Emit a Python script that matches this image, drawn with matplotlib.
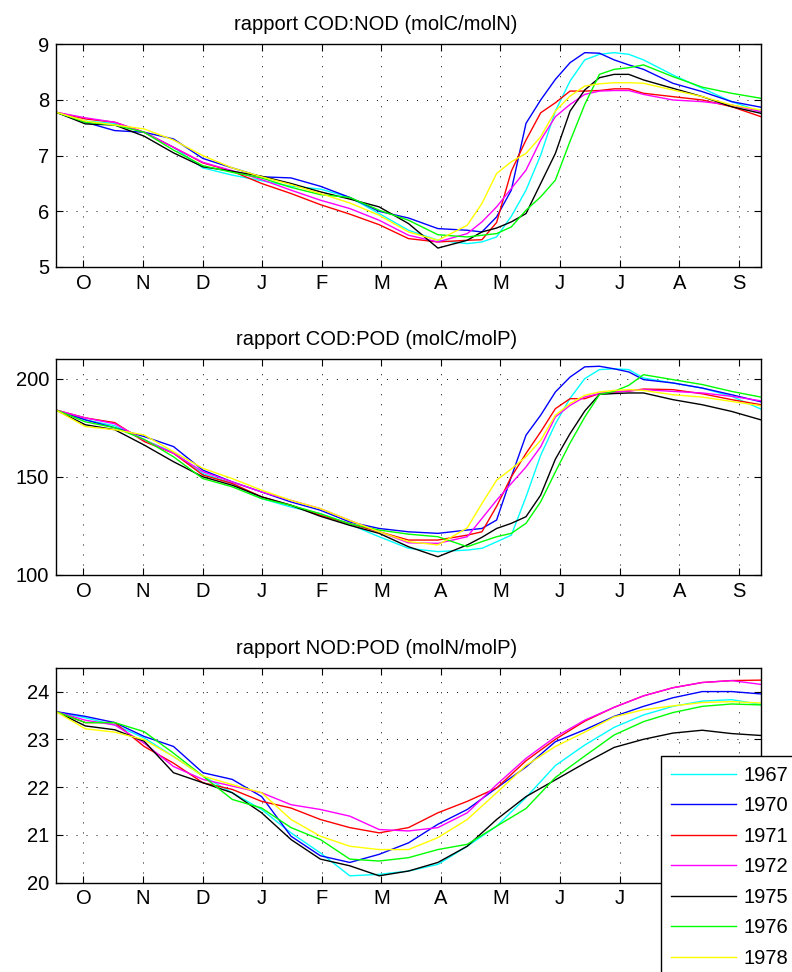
import matplotlib
matplotlib.use("Agg")
import matplotlib.pyplot as plt
from matplotlib.lines import Line2D

plt.rcParams['font.family'] = ['Liberation Sans', 'DejaVu Sans']

# Day index from 1 October (hydrological year)
# carbon ratios: finer sampling through the spring rise
days_c = [0, 15, 30, 45, 60, 75, 90, 105, 120, 135, 150, 165, 180, 195, 210,
          217.5, 225, 232.5, 240, 247.5, 255, 262.5, 270, 277.5, 285, 292.5,
          300, 315, 330, 345, 360]
# N:P ratio: every 15 days
days_n = [0, 15, 30, 45, 60, 75, 90, 105, 120, 135, 150, 165, 180,
          195, 210, 225, 240, 255, 270, 285, 300, 315, 330, 345, 360]

month_labels = ['O', 'N', 'D', 'J', 'F', 'M', 'A', 'M', 'J', 'J', 'A', 'S']
month_ticks = [14 + 30.42 * i for i in range(12)]

years = ['1967', '1970', '1971', '1972', '1975', '1976', '1978']
colors = ['#00ffff', '#0000ff', '#ff0000', '#ff00ff', '#000000', '#00ff00', '#ffff00']

# rapport COD:NOD (molC/molN)
cn_1967 = [7.78, 7.62, 7.58, 7.42, 7.15, 6.78, 6.65, 6.55, 6.45, 6.40, 6.25, 5.96, 5.66, 5.48, 5.42,
           5.45, 5.54, 5.91, 6.38, 7.01, 7.80, 8.34, 8.72, 8.82, 8.85, 8.82,
           8.72, 8.45, 8.21, 7.97, 7.79]
cn_1970 = [7.78, 7.60, 7.45, 7.42, 7.30, 6.95, 6.78, 6.62, 6.60, 6.45, 6.25, 6.00, 5.88, 5.69, 5.66,
           5.63, 5.90, 6.38, 7.58, 8.00, 8.37, 8.67, 8.85, 8.84, 8.72, 8.63,
           8.55, 8.30, 8.15, 7.97, 7.87]
cn_1971 = [7.78, 7.66, 7.60, 7.42, 7.15, 6.87, 6.72, 6.50, 6.32, 6.12, 5.95, 5.76, 5.51, 5.45, 5.48,
           5.49, 5.80, 6.72, 7.28, 7.77, 7.95, 8.16, 8.16, 8.17, 8.20, 8.20,
           8.12, 8.06, 8.00, 7.88, 7.70]
cn_1972 = [7.78, 7.68, 7.60, 7.42, 7.15, 6.88, 6.73, 6.57, 6.38, 6.20, 6.05, 5.84, 5.57, 5.45, 5.60,
           5.81, 6.08, 6.41, 6.74, 7.28, 7.70, 7.92, 8.10, 8.16, 8.17, 8.17,
           8.10, 8.00, 7.97, 7.91, 7.79]
cn_1975 = [7.78, 7.57, 7.55, 7.35, 7.05, 6.80, 6.72, 6.63, 6.50, 6.35, 6.22, 6.08, 5.78, 5.34, 5.48,
           5.63, 5.70, 5.81, 5.96, 6.50, 7.04, 7.80, 8.18, 8.40, 8.46, 8.46,
           8.36, 8.21, 8.06, 7.88, 7.76]
cn_1976 = [7.78, 7.60, 7.55, 7.42, 7.10, 6.82, 6.70, 6.60, 6.43, 6.30, 6.25, 6.02, 5.84, 5.58, 5.54,
           5.57, 5.60, 5.72, 6.02, 6.26, 6.56, 7.26, 7.92, 8.46, 8.55, 8.58,
           8.63, 8.42, 8.23, 8.12, 8.03]
cn_1978 = [7.78, 7.62, 7.55, 7.48, 7.28, 7.00, 6.78, 6.62, 6.48, 6.32, 6.15, 5.93, 5.63, 5.48, 5.75,
           6.14, 6.68, 6.89, 7.04, 7.34, 7.80, 8.07, 8.25, 8.29, 8.31, 8.31,
           8.30, 8.18, 8.06, 7.91, 7.82]

# rapport COD:POD (molC/molP)
cp_1967 = [184, 179, 176, 168.8, 162.5, 151.7, 146.6, 138.9, 134.6, 131.2, 125.8, 119.5, 113.6, 111.9, 112.7,
           113.6, 116.9, 120.3, 139.8, 161, 177, 190, 200, 204.6, 205, 204.6,
           200.3, 197.8, 195.2, 191, 184.5]
cp_1970 = [184, 179, 175, 170.5, 165.4, 153.4, 147.4, 142.3, 137.2, 133, 127, 123.7, 122, 121.2, 122.9,
           123.7, 128, 150, 171.2, 181.4, 193.2, 200.8, 206, 206.3, 205, 203.4,
           199.5, 197.8, 195.2, 191.8, 188.2]
cp_1971 = [184, 180, 177.6, 168, 162, 150.9, 146.6, 139.8, 135.5, 130.4, 126.1, 122, 117.8, 117.8, 120.3,
           122, 135, 150, 161.9, 172.9, 184.7, 189.8, 189.8, 192.4, 193.2, 193.7,
           194.7, 194.4, 192.3, 189.3, 186.7]
cp_1972 = [184, 180, 177, 168.8, 162, 152.6, 147.4, 142.3, 138, 133.8, 127.8, 122, 116.4, 116.1, 119.5,
           128.8, 138.1, 146.6, 155, 165.3, 180.5, 186.4, 190.7, 192.4, 193.2, 193.7,
           194.4, 193.5, 192.7, 191, 188.7]
cp_1975 = [184, 176.5, 174, 166.2, 157.7, 150, 145.7, 139.8, 135.5, 129.9, 125.3, 121.2, 114.4, 109.3, 115.3,
           119.2, 123.7, 126.3, 129.7, 140.7, 159, 172, 183.5, 192, 192.4, 192.7,
           192.7, 189.3, 186.7, 183.3, 179]
cp_1976 = [184, 178, 175, 169.1, 160.2, 149.1, 144.9, 138.9, 135.5, 131.2, 126.1, 122.9, 120.8, 119.5, 114.4,
           117, 119.5, 121.2, 126.3, 137.3, 152.5, 167.2, 180.4, 191.9, 193.5, 196.6,
           202, 199.5, 197, 193.5, 190.6]
cp_1978 = [184, 175.6, 174, 171.3, 162.8, 154.3, 149.1, 143.2, 138, 133.8, 127.8, 122, 117, 115.3, 124,
           136.4, 148.3, 154, 160.2, 168.6, 181.4, 187.3, 191.5, 193.2, 194, 194.4,
           194, 191.8, 190.6, 188.4, 186.2]

# rapport NOD:POD (molN/molP)
np_1967 = [23.58, 23.45, 23.30, 23.03, 22.64, 22.23, 21.88, 21.53, 21.04, 20.62, 20.14, 20.17, 20.24,
           20.38, 20.76, 21.18, 21.78, 22.45, 22.88, 23.25, 23.51, 23.69, 23.80, 23.83, 23.73]
np_1970 = [23.58, 23.48, 23.35, 23.06, 22.85, 22.30, 22.16, 21.80, 20.97, 20.56, 20.42, 20.59, 20.83,
           21.22, 21.53, 21.98, 22.42, 22.95, 23.20, 23.48, 23.69, 23.87, 24.00, 24.00, 23.95]
np_1971 = [23.58, 23.35, 23.35, 22.85, 22.50, 22.09, 21.95, 21.70, 21.56, 21.32, 21.15, 21.04, 21.15,
           21.46, 21.70, 21.98, 22.55, 23.00, 23.38, 23.67, 23.91, 24.08, 24.19, 24.23, 24.24]
np_1972 = [23.58, 23.40, 23.30, 22.92, 22.43, 22.16, 22.02, 21.88, 21.63, 21.53, 21.39, 21.11, 21.08,
           21.15, 21.46, 22.05, 22.60, 23.05, 23.40, 23.67, 23.91, 24.08, 24.19, 24.23, 24.15]
np_1975 = [23.58, 23.28, 23.20, 22.96, 22.30, 22.09, 21.88, 21.46, 20.90, 20.49, 20.35, 20.14, 20.24,
           20.42, 20.76, 21.32, 21.80, 22.15, 22.50, 22.83, 23.00, 23.13, 23.19, 23.12, 23.08]
np_1976 = [23.58, 23.35, 23.35, 23.16, 22.71, 22.23, 21.74, 21.56, 21.15, 20.90, 20.49, 20.45, 20.52,
           20.69, 20.80, 21.18, 21.55, 22.20, 22.65, 23.09, 23.37, 23.56, 23.69, 23.74, 23.72]
np_1978 = [23.58, 23.22, 23.15, 22.99, 22.64, 22.23, 22.05, 21.88, 21.32, 20.97, 20.76, 20.69, 20.69,
           20.94, 21.32, 21.88, 22.45, 22.85, 23.15, 23.47, 23.62, 23.70, 23.77, 23.79, 23.76]

panels = [
    ("rapport COD:NOD (molC/molN)", days_c,
     [cn_1967, cn_1970, cn_1971, cn_1972, cn_1975, cn_1976, cn_1978], (5, 9), [5, 6, 7, 8, 9]),
    ("rapport COD:POD (molC/molP)", days_c,
     [cp_1967, cp_1970, cp_1971, cp_1972, cp_1975, cp_1976, cp_1978], (100, 210), [100, 150, 200]),
    ("rapport NOD:POD (molN/molP)", days_n,
     [np_1967, np_1970, np_1971, np_1972, np_1975, np_1976, np_1978], (20, 24.5), [20, 21, 22, 23, 24]),
]

W, H = 792, 972
fig = plt.figure(figsize=(W / 100, H / 100), dpi=100)

# axes boxes in pixels: (left, top, right, bottom)
boxes = [(56, 44.3, 761, 267), (56, 359, 761, 575), (56, 667.7, 761, 882.5)]

FS = 14.5
axes = []
for (title, xs, series, ylim, yticks), (l, t, r, b) in zip(panels, boxes):
    ax = fig.add_axes([l / W, 1 - b / H, (r - l) / W, (b - t) / H])
    for vals, c, yr in zip(series, colors, years):
        ax.plot(xs, vals, color=c, lw=1.0, label=yr)
    ax.set_xlim(0, 360)
    ax.set_ylim(*ylim)
    ax.set_xticks(month_ticks)
    ax.set_xticklabels(month_labels)
    ax.set_yticks(yticks)
    ax.tick_params(direction='in', length=5, width=0.8, top=True, right=True,
                   labelsize=FS, pad=5)
    ax.grid(True, color='k', linestyle=(0, (1, 9.3)), lw=0.7)
    for s in ax.spines.values():
        s.set_linewidth(1.0)
    ax.set_title(title, fontsize=FS, x=0.454, pad=10)
    axes.append(ax)

# the legend box sits over the last two month labels of the bottom panel
for lab in axes[2].get_xticklabels()[-2:]:
    lab.set_visible(False)

handles = [Line2D([], [], color=c, lw=1.0) for c in colors]
leg = fig.legend(handles, years, loc='upper left',
                 bbox_to_anchor=(660.7 / W, 1 - 755.7 / H), bbox_transform=fig.transFigure,
                 borderaxespad=0, frameon=True, fancybox=False, edgecolor='k',
                 fontsize=FS, handlelength=3.25, handletextpad=0.35,
                 borderpad=0.5, labelspacing=0.57, framealpha=1)
leg.get_frame().set_linewidth(1.0)

fig.savefig("out.png", dpi=100)
